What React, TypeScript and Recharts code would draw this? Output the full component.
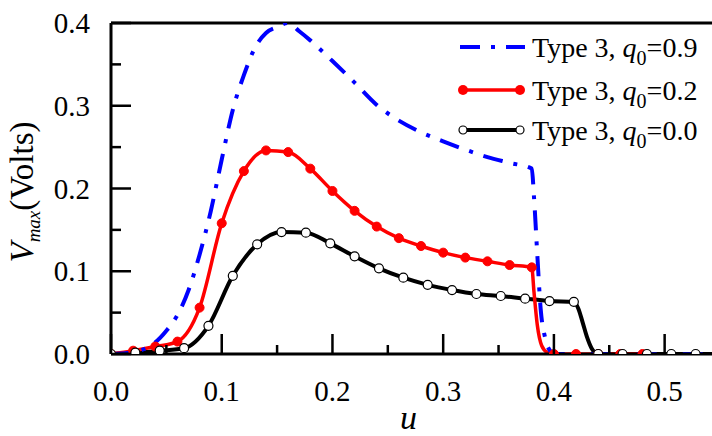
import { LineChart, Line, XAxis, YAxis, ReferenceLine, Legend } from "recharts";

const FONT = "Liberation Serif, Times New Roman, Tinos, DejaVu Serif, serif";
const TXT = { fontFamily: FONT };

const X_TICKS = [0, 0.05, 0.1, 0.15, 0.2, 0.25, 0.3, 0.35, 0.4, 0.45, 0.5, 0.55];
const Y_TICKS = [0, 0.05, 0.1, 0.15, 0.2, 0.25, 0.3, 0.35, 0.4];

// Type 3, q0 = 0.9 (dash-dot, no markers)
const BLUE_U = [0, 0.01, 0.02, 0.03, 0.04, 0.05, 0.06, 0.07, 0.08, 0.09, 0.1, 0.11, 0.12, 0.13, 0.14, 0.15, 0.16, 0.17, 0.18, 0.2, 0.22, 0.24, 0.26, 0.28, 0.3, 0.32, 0.34, 0.36, 0.38, 0.382, 0.385, 0.388, 0.392, 0.397, 0.4, 0.45, 0.5, 0.55];
const BLUE_V = [0, 0.0005, 0.002, 0.006, 0.014, 0.028, 0.047, 0.077, 0.12, 0.172, 0.235, 0.295, 0.337, 0.37, 0.388, 0.395, 0.4, 0.39, 0.379, 0.354, 0.328, 0.301, 0.282, 0.268, 0.257, 0.247, 0.238, 0.231, 0.224, 0.19, 0.12, 0.055, 0.02, 0.003, 0, 0, 0, 0];

// Type 3, q0 = 0.2 (filled markers)
const RED_U = [0, 0.02, 0.04, 0.06, 0.08, 0.1, 0.12, 0.14, 0.16, 0.18, 0.2, 0.22, 0.24, 0.26, 0.28, 0.3, 0.32, 0.34, 0.36, 0.38, 0.382, 0.385, 0.389, 0.394, 0.4, 0.42, 0.44, 0.46, 0.48];
const RED_V = [0, 0.004, 0.009, 0.015, 0.056, 0.158, 0.221, 0.246, 0.244, 0.224, 0.197, 0.173, 0.154, 0.14, 0.1305, 0.1225, 0.1165, 0.112, 0.1075, 0.1047, 0.075, 0.035, 0.01, 0.002, 0, 0, 0, 0, 0];
const RED_DOT = [1, 1, 1, 1, 1, 1, 1, 1, 1, 1, 1, 1, 1, 1, 1, 1, 1, 1, 1, 1, 0, 0, 0, 0, 1, 1, 1, 1, 1];

// Type 3, q0 = 0.0 (open markers)
const BLACK_U = [0, 0.022, 0.044, 0.066, 0.088, 0.11, 0.132, 0.154, 0.176, 0.198, 0.22, 0.242, 0.264, 0.286, 0.308, 0.33, 0.352, 0.374, 0.396, 0.418, 0.422, 0.426, 0.43, 0.434, 0.44, 0.462, 0.484, 0.506, 0.528, 0.55];
const BLACK_V = [0, 0.0016, 0.004, 0.007, 0.034, 0.0945, 0.1325, 0.1474, 0.1466, 0.1337, 0.118, 0.1035, 0.0922, 0.0836, 0.0773, 0.0725, 0.0701, 0.0669, 0.064, 0.063, 0.055, 0.038, 0.02, 0.007, 0, 0, 0, 0, 0, 0];
const BLACK_DOT = [1, 1, 1, 1, 1, 1, 1, 1, 1, 1, 1, 1, 1, 1, 1, 1, 1, 1, 1, 1, 0, 0, 0, 0, 1, 1, 1, 1, 1, 0];

const toPoints = (us: number[], vs: number[], dots?: number[]) =>
  us.map((u, i) => ({ u, v: vs[i], m: dots ? dots[i] : 0 }));

const blue = toPoints(BLUE_U, BLUE_V);
const red = toPoints(RED_U, RED_V, RED_DOT);
const black = toPoints(BLACK_U, BLACK_V, BLACK_DOT);

const BLUE_DASH = "20 11 4 11";

const isMajor = (v: number) => Math.round(v * 100) % 10 === 0;

const XTick = ({ x, y, payload }: any) => {
  const major = isMajor(payload.value);
  return (
    <g>
      <line x1={x} x2={x} y1={y} y2={y - (major ? 20 : 9)} stroke="#000" strokeWidth={2.5} />
      {major && (
        <text x={x} y={y + 47} textAnchor="middle" fontSize={29} style={TXT} fill="#000">
          {payload.value.toFixed(1)}
        </text>
      )}
    </g>
  );
};

const YTick = ({ x, y, payload }: any) => {
  const major = isMajor(payload.value);
  return (
    <g>
      <line x1={x} x2={x + (major ? 20 : 10)} y1={y} y2={y} stroke="#000" strokeWidth={2.5} />
      {major && (
        <text x={x - 21} y={y + 10} textAnchor="end" fontSize={29} style={TXT} fill="#000">
          {payload.value.toFixed(1)}
        </text>
      )}
    </g>
  );
};

const XLabel = ({ viewBox }: any) => (
  <text x={viewBox.x + viewBox.width / 2 - 7} y={429} textAnchor="middle" fontSize={34} fontStyle="italic" style={TXT} fill="#000">
    u
  </text>
);

const YLabel = () => (
  <text x={33} y={192} transform="rotate(-90, 33, 192)" textAnchor="middle" fontSize={33} style={TXT} fill="#000">
    <tspan fontStyle="italic">V</tspan>
    <tspan fontStyle="italic" fontSize={19} dy={7}>max</tspan>
    <tspan dy={-7}>(Volts)</tspan>
  </text>
);

const redDot = (props: any) =>
  props.payload.m ? (
    <circle key={props.index} cx={props.cx} cy={props.cy} r={4.5} fill="#ff0000" stroke="#ff0000" strokeWidth={1} />
  ) : (
    <g key={props.index} />
  );

const blackDot = (props: any) =>
  props.payload.m ? (
    <circle key={props.index} cx={props.cx} cy={props.cy} r={4.5} fill="#fff" stroke="#000" strokeWidth={1.2} />
  ) : (
    <g key={props.index} />
  );

const LEGEND_ROWS = [
  { q: "0.9", kind: "blue" },
  { q: "0.2", kind: "red" },
  { q: "0.0", kind: "black" },
];

const LegendContent = () => {
  const centers = [22, 65, 105];
  return (
    <svg width={260} height={130} style={{ overflow: "visible", display: "block" }}>
      {LEGEND_ROWS.map((row, i) => {
        const cy = centers[i];
        return (
          <g key={row.q}>
            {row.kind === "blue" && (
              <line x1={8} x2={73} y1={cy} y2={cy} stroke="#0000ff" strokeWidth={4} strokeDasharray={BLUE_DASH} />
            )}
            {row.kind === "red" && (
              <g>
                <line x1={11} x2={68} y1={cy} y2={cy} stroke="#ff0000" strokeWidth={3.5} />
                <circle cx={11} cy={cy} r={5} fill="#ff0000" />
                <circle cx={68} cy={cy} r={5} fill="#ff0000" />
              </g>
            )}
            {row.kind === "black" && (
              <g>
                <line x1={11} x2={68} y1={cy} y2={cy} stroke="#000" strokeWidth={4} />
                <circle cx={11} cy={cy} r={4} fill="#fff" stroke="#000" strokeWidth={1.2} />
                <circle cx={68} cy={cy} r={4} fill="#fff" stroke="#000" strokeWidth={1.2} />
              </g>
            )}
            <text x={80} y={cy + 10} fontSize={28} style={TXT} fill="#000">
              Type 3,{" "}
              <tspan fontStyle="italic">q</tspan>
              <tspan fontSize={20} dy={8}>0</tspan>
              <tspan dy={-8}>={row.q}</tspan>
            </text>
          </g>
        );
      })}
    </svg>
  );
};

export default function App() {
  return (
    <div style={{ position: "absolute", left: 0, top: 0, width: 712, height: 436, overflow: "hidden", background: "#fff", fontFamily: FONT }}>
      <LineChart width={720} height={436} margin={{ top: 23, right: 0, bottom: 22, left: 0 }}>
        <XAxis
          dataKey="u"
          type="number"
          domain={[0, 0.55]}
          ticks={X_TICKS}
          interval={0}
          allowDataOverflow
          height={60}
          tickSize={0}
          tickMargin={0}
          tickLine={false}
          tick={XTick}
          axisLine={{ stroke: "#000", strokeWidth: 3 }}
          label={<XLabel />}
        />
        <YAxis
          type="number"
          domain={[0, 0.4]}
          ticks={Y_TICKS}
          interval={0}
          allowDataOverflow
          width={111}
          tickSize={0}
          tickMargin={0}
          tickLine={false}
          tick={YTick}
          axisLine={{ stroke: "#000", strokeWidth: 3 }}
          label={<YLabel />}
        />
        <ReferenceLine y={0.4} stroke="#000" strokeWidth={3} />
        <Line data={black} dataKey="v" type="monotone" stroke="#000" strokeWidth={4} dot={false} activeDot={false} isAnimationActive={false} />
        <Line data={red} dataKey="v" type="monotone" stroke="#ff0000" strokeWidth={3.5} dot={false} activeDot={false} isAnimationActive={false} />
        <Line data={blue} dataKey="v" type="monotone" stroke="#0000ff" strokeWidth={4} strokeDasharray={BLUE_DASH} dot={false} activeDot={false} isAnimationActive={false} />
        <Line data={red} dataKey="v" type="monotone" stroke="none" dot={redDot} activeDot={false} isAnimationActive={false} />
        <Line data={black} dataKey="v" type="monotone" stroke="none" dot={blackDot} activeDot={false} isAnimationActive={false} />
        <Legend
          layout="vertical"
          align="center"
          verticalAlign="middle"
          content={<LegendContent />}
          wrapperStyle={{ left: 452, top: 25, width: 260, height: 130 }}
        />
      </LineChart>
    </div>
  );
}
